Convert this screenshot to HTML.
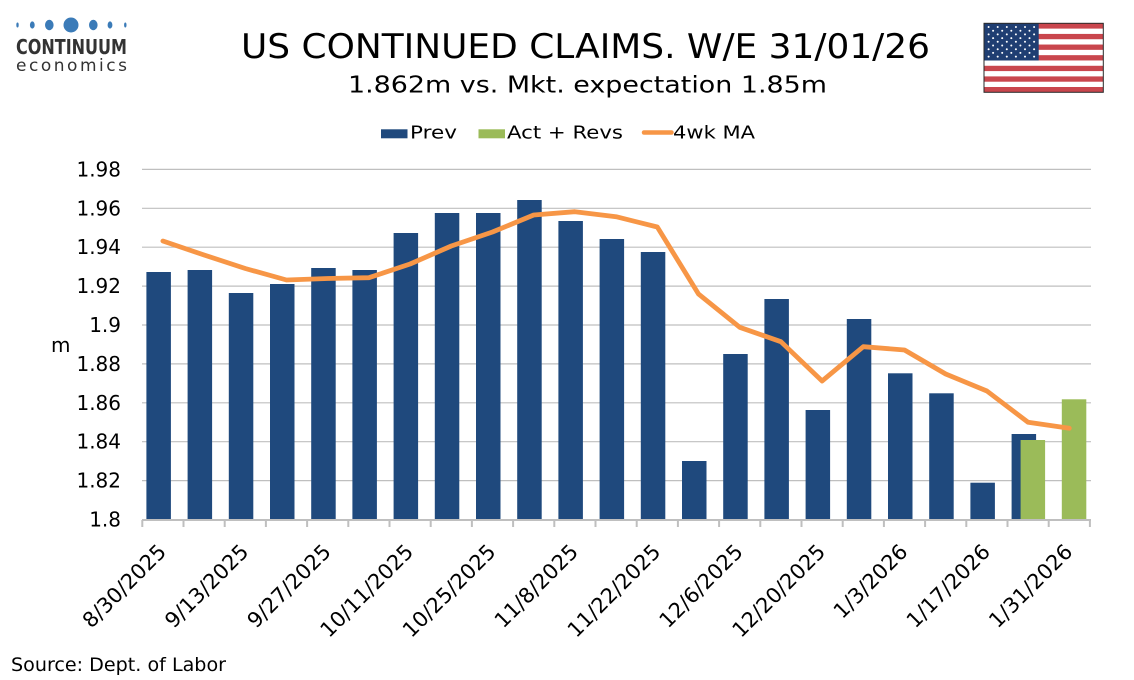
<!DOCTYPE html>
<html><head><meta charset="utf-8"><style>
html,body{margin:0;padding:0;background:#fff;}
svg{display:block;}
text{font-family:"DejaVu Sans","Liberation Sans",sans-serif;fill:#000;}
</style></head><body>
<svg width="1134" height="680" viewBox="0 0 1134 680" xmlns="http://www.w3.org/2000/svg">
<rect width="1134" height="680" fill="#fff"/>
<!-- logo -->
<g fill="#3b7bb8">
<ellipse cx="17.5" cy="25" rx="1.2" ry="2.5"/>
<ellipse cx="32.3" cy="25" rx="2.4" ry="3.6"/>
<ellipse cx="49.3" cy="25" rx="4.3" ry="5.2"/>
<ellipse cx="71" cy="25" rx="7.5" ry="7.5"/>
<ellipse cx="93.3" cy="25" rx="4.3" ry="5.2"/>
<ellipse cx="110" cy="25" rx="2.4" ry="3.6"/>
<ellipse cx="125.3" cy="25" rx="1.2" ry="2.5"/>
</g>
<text x="16" y="54" font-size="20" font-weight="bold" style="fill:#333" textLength="111" lengthAdjust="spacingAndGlyphs">CONTINUUM</text>
<text x="16" y="71" font-size="17" style="fill:#333" textLength="111" lengthAdjust="spacing">economics</text>
<!-- titles -->
<text x="241" y="58" font-size="34" textLength="689" lengthAdjust="spacingAndGlyphs">US CONTINUED CLAIMS. W/E 31/01/26</text>
<text x="348" y="92.7" font-size="23" textLength="479" lengthAdjust="spacingAndGlyphs">1.862m vs. Mkt. expectation 1.85m</text>
<!-- flag -->
<g>
<rect x="984" y="23.3" width="119.3" height="69" fill="#fff"/>
<g fill="#c9464d">
<rect x="984" y="23.3" width="119.3" height="5.31"/>
<rect x="984" y="33.92" width="119.3" height="5.31"/>
<rect x="984" y="44.54" width="119.3" height="5.31"/>
<rect x="984" y="55.16" width="119.3" height="5.31"/>
<rect x="984" y="65.78" width="119.3" height="5.31"/>
<rect x="984" y="76.4" width="119.3" height="5.31"/>
<rect x="984" y="87.0" width="119.3" height="5.31"/>
</g>
<rect x="984" y="23.3" width="54.7" height="37.2" fill="#1f3e72"/>
<g fill="#fff">
<circle cx="988.6" cy="27" r="1"/><circle cx="997.7" cy="27" r="1"/><circle cx="1006.8" cy="27" r="1"/><circle cx="1015.9" cy="27" r="1"/><circle cx="1025" cy="27" r="1"/><circle cx="1034.1" cy="27" r="1"/>
<circle cx="993.1" cy="30.7" r="1"/><circle cx="1002.2" cy="30.7" r="1"/><circle cx="1011.3" cy="30.7" r="1"/><circle cx="1020.4" cy="30.7" r="1"/><circle cx="1029.5" cy="30.7" r="1"/>
<circle cx="988.6" cy="34.4" r="1"/><circle cx="997.7" cy="34.4" r="1"/><circle cx="1006.8" cy="34.4" r="1"/><circle cx="1015.9" cy="34.4" r="1"/><circle cx="1025" cy="34.4" r="1"/><circle cx="1034.1" cy="34.4" r="1"/>
<circle cx="993.1" cy="38.1" r="1"/><circle cx="1002.2" cy="38.1" r="1"/><circle cx="1011.3" cy="38.1" r="1"/><circle cx="1020.4" cy="38.1" r="1"/><circle cx="1029.5" cy="38.1" r="1"/>
<circle cx="988.6" cy="41.8" r="1"/><circle cx="997.7" cy="41.8" r="1"/><circle cx="1006.8" cy="41.8" r="1"/><circle cx="1015.9" cy="41.8" r="1"/><circle cx="1025" cy="41.8" r="1"/><circle cx="1034.1" cy="41.8" r="1"/>
<circle cx="993.1" cy="45.5" r="1"/><circle cx="1002.2" cy="45.5" r="1"/><circle cx="1011.3" cy="45.5" r="1"/><circle cx="1020.4" cy="45.5" r="1"/><circle cx="1029.5" cy="45.5" r="1"/>
<circle cx="988.6" cy="49.2" r="1"/><circle cx="997.7" cy="49.2" r="1"/><circle cx="1006.8" cy="49.2" r="1"/><circle cx="1015.9" cy="49.2" r="1"/><circle cx="1025" cy="49.2" r="1"/><circle cx="1034.1" cy="49.2" r="1"/>
<circle cx="993.1" cy="52.9" r="1"/><circle cx="1002.2" cy="52.9" r="1"/><circle cx="1011.3" cy="52.9" r="1"/><circle cx="1020.4" cy="52.9" r="1"/><circle cx="1029.5" cy="52.9" r="1"/>
<circle cx="988.6" cy="56.6" r="1"/><circle cx="997.7" cy="56.6" r="1"/><circle cx="1006.8" cy="56.6" r="1"/><circle cx="1015.9" cy="56.6" r="1"/><circle cx="1025" cy="56.6" r="1"/><circle cx="1034.1" cy="56.6" r="1"/>
</g>
<rect x="984" y="23.3" width="119.3" height="69" fill="none" stroke="#2a2a2a" stroke-width="1"/>
</g>
<!-- legend -->
<rect x="381" y="129.3" width="26.5" height="9" fill="#1f497d"/>
<text x="410" y="138.3" font-size="18" textLength="47" lengthAdjust="spacingAndGlyphs">Prev</text>
<rect x="478.5" y="129.3" width="26.5" height="9" fill="#9bbb59"/>
<text x="507" y="138.3" font-size="18" textLength="116" lengthAdjust="spacingAndGlyphs">Act + Revs</text>
<line x1="644" y1="132.5" x2="671.5" y2="132.5" stroke="#f79646" stroke-width="4.5" stroke-linecap="round"/>
<text x="673" y="138.3" font-size="18" textLength="82" lengthAdjust="spacingAndGlyphs">4wk MA</text>
<!-- gridlines -->
<g stroke="#bfbfbf" stroke-width="1.2">
<line x1="142" y1="169.4" x2="1091" y2="169.4"/>
<line x1="142" y1="208.3" x2="1091" y2="208.3"/>
<line x1="142" y1="247.2" x2="1091" y2="247.2"/>
<line x1="142" y1="286.1" x2="1091" y2="286.1"/>
<line x1="142" y1="325" x2="1091" y2="325"/>
<line x1="142" y1="363.9" x2="1091" y2="363.9"/>
<line x1="142" y1="402.8" x2="1091" y2="402.8"/>
<line x1="142" y1="441.7" x2="1091" y2="441.7"/>
<line x1="142" y1="480.6" x2="1091" y2="480.6"/>
</g>
<!-- y labels -->
<g font-size="20" text-anchor="end">
<text x="121" y="176.4">1.98</text>
<text x="121" y="215.3">1.96</text>
<text x="121" y="254.2">1.94</text>
<text x="121" y="293.1">1.92</text>
<text x="121" y="332">1.9</text>
<text x="121" y="370.9">1.88</text>
<text x="121" y="409.8">1.86</text>
<text x="121" y="448.7">1.84</text>
<text x="121" y="487.6">1.82</text>
<text x="121" y="526.5">1.8</text>
</g>
<text x="51" y="352" font-size="20">m</text>
<!-- bars prev -->
<g fill="#1f497d">
<rect x="146.4" y="272" width="24.5" height="248"/>
<rect x="187.6" y="270" width="24.5" height="250"/>
<rect x="228.8" y="293" width="24.5" height="227"/>
<rect x="270.0" y="284" width="24.5" height="236"/>
<rect x="311.2" y="268" width="24.5" height="252"/>
<rect x="352.4" y="270" width="24.5" height="250"/>
<rect x="393.6" y="233" width="24.5" height="287"/>
<rect x="434.8" y="213" width="24.5" height="307"/>
<rect x="476.0" y="213" width="24.5" height="307"/>
<rect x="517.2" y="200" width="24.5" height="320"/>
<rect x="558.4" y="221" width="24.5" height="299"/>
<rect x="599.6" y="239" width="24.5" height="281"/>
<rect x="640.8" y="252" width="24.5" height="268"/>
<rect x="682.0" y="461" width="24.5" height="59"/>
<rect x="723.2" y="354" width="24.5" height="166"/>
<rect x="764.4" y="299" width="24.5" height="221"/>
<rect x="805.6" y="410" width="24.5" height="110"/>
<rect x="846.8" y="319" width="24.5" height="201"/>
<rect x="888.0" y="373.3" width="24.5" height="146.7"/>
<rect x="929.2" y="393.3" width="24.5" height="126.7"/>
<rect x="970.4" y="482.7" width="24.5" height="37.3"/>
<rect x="1011.6" y="434" width="24.5" height="86"/>
</g>
<g fill="#9bbb59">
<rect x="1020.6" y="440" width="24.5" height="80"/>
<rect x="1061.8" y="399.3" width="24.5" height="120.7"/>
</g>
<!-- axis -->
<g stroke="#bfbfbf" stroke-width="2">
<line x1="142" y1="520" x2="1091" y2="520"/>
<line x1="142.3" y1="520" x2="142.3" y2="527"/>
<line x1="183.5" y1="520" x2="183.5" y2="527"/>
<line x1="224.7" y1="520" x2="224.7" y2="527"/>
<line x1="265.9" y1="520" x2="265.9" y2="527"/>
<line x1="307.1" y1="520" x2="307.1" y2="527"/>
<line x1="348.3" y1="520" x2="348.3" y2="527"/>
<line x1="389.5" y1="520" x2="389.5" y2="527"/>
<line x1="430.7" y1="520" x2="430.7" y2="527"/>
<line x1="471.9" y1="520" x2="471.9" y2="527"/>
<line x1="513.1" y1="520" x2="513.1" y2="527"/>
<line x1="554.3" y1="520" x2="554.3" y2="527"/>
<line x1="595.5" y1="520" x2="595.5" y2="527"/>
<line x1="636.7" y1="520" x2="636.7" y2="527"/>
<line x1="677.9" y1="520" x2="677.9" y2="527"/>
<line x1="719.1" y1="520" x2="719.1" y2="527"/>
<line x1="760.3" y1="520" x2="760.3" y2="527"/>
<line x1="801.5" y1="520" x2="801.5" y2="527"/>
<line x1="842.7" y1="520" x2="842.7" y2="527"/>
<line x1="883.9" y1="520" x2="883.9" y2="527"/>
<line x1="925.1" y1="520" x2="925.1" y2="527"/>
<line x1="966.3" y1="520" x2="966.3" y2="527"/>
<line x1="1007.5" y1="520" x2="1007.5" y2="527"/>
<line x1="1048.7" y1="520" x2="1048.7" y2="527"/>
<line x1="1089.9" y1="520" x2="1089.9" y2="527"/>
</g>
<!-- MA line -->
<polyline fill="none" stroke="#f79646" stroke-width="4.8" stroke-linejoin="round" stroke-linecap="round"
points="162.9,241 204.1,255 245.3,268.5 286.5,280 327.7,278.5 368.9,277.7 410.1,264 451.3,246 492.5,232 533.7,215 574.9,211.7 616.1,216.7 657.3,227 698.5,294 739.7,327.3 780.9,341.7 822.1,381 863.3,346.7 904.5,350 945.7,374 986.9,391 1028.1,422.3 1069.3,428.3"/>
<!-- x labels -->
<g font-size="21" text-anchor="end">
<text transform="translate(167.4,553) rotate(-45)">8/30/2025</text>
<text transform="translate(249.8,553) rotate(-45)">9/13/2025</text>
<text transform="translate(332.2,553) rotate(-45)">9/27/2025</text>
<text transform="translate(414.6,553) rotate(-45)">10/11/2025</text>
<text transform="translate(497,553) rotate(-45)">10/25/2025</text>
<text transform="translate(579.4,553) rotate(-45)">11/8/2025</text>
<text transform="translate(661.8,553) rotate(-45)">11/22/2025</text>
<text transform="translate(744.2,553) rotate(-45)">12/6/2025</text>
<text transform="translate(826.6,553) rotate(-45)">12/20/2025</text>
<text transform="translate(909,553) rotate(-45)">1/3/2026</text>
<text transform="translate(991.4,553) rotate(-45)">1/17/2026</text>
<text transform="translate(1073.8,553) rotate(-45)">1/31/2026</text>
</g>
<text x="11" y="671" font-size="19" textLength="215" lengthAdjust="spacingAndGlyphs">Source: Dept. of Labor</text>
</svg>
</body></html>
